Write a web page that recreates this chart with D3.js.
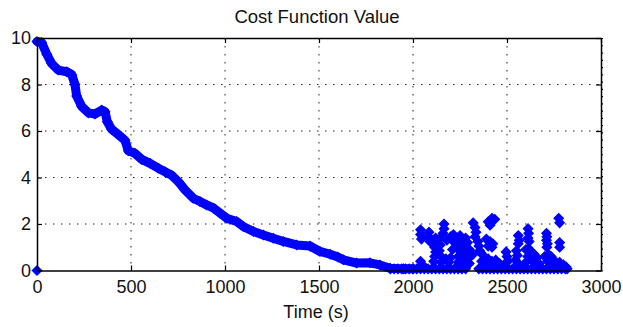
<!DOCTYPE html>
<html>
<head>
<meta charset="utf-8">
<script src="https://cdnjs.cloudflare.com/ajax/libs/d3/7.8.5/d3.min.js"></script>
<style>
  body { margin: 0; background: #fff; }
  text { font-family: "Liberation Sans", Arial, sans-serif; fill: #111; }
  .axis path.domain { stroke: #000; stroke-width: 1.5; }
  .axis .tick line { stroke: #000; stroke-width: 1.2; }
  .axis text { font-size: 18px; }
  .grid line { stroke: #222; stroke-width: 1; stroke-dasharray: 1.5 6.5; }
</style>
</head>
<body>
<svg id="chart" width="623" height="327"></svg>
<script>
// main descending curve (time in s, cost value)
var curveTime  = [0, 25, 52, 78, 113, 158, 185, 202, 211, 238, 273, 308, 344, 362, 374, 397, 432, 468, 486,
                  521, 557, 601, 645, 681, 716, 752, 787, 831, 867, 902, 940, 973, 1009, 1062, 1097, 1151,
                  1204, 1257, 1310, 1381, 1452, 1505, 1559, 1600, 1630, 1700, 1771, 1824, 1878, 1950, 2000];
var curveValue = [9.85, 9.8, 9.3, 8.9, 8.62, 8.55, 8.42, 8.0, 7.5, 7.05, 6.78, 6.73, 6.9, 6.83, 6.4, 6.08, 5.85, 5.6, 5.15,
                  5.04, 4.78, 4.61, 4.4, 4.25, 4.1, 3.82, 3.47, 3.11, 2.97, 2.82, 2.68, 2.47, 2.25, 2.11, 1.89, 1.68,
                  1.53, 1.39, 1.25, 1.1, 1.05, 0.82, 0.7, 0.58, 0.46, 0.32, 0.33, 0.24, 0.1, 0.07, 0.07];

// points sitting on the floor after the curve has converged
var floorTime = [1880, 1900, 1920, 1940, 1960, 1980, 2000, 2020, 2040, 2060, 2080, 2100, 2120, 2140, 2160, 2180,
                 2200, 2220, 2240, 2260, 2280,
                 2350, 2370, 2390, 2410, 2430, 2450, 2470, 2490, 2510, 2530, 2550, 2570, 2590, 2610, 2630, 2650,
                 2670, 2690, 2710, 2730, 2750, 2770, 2790, 2810, 2820];
var floorValue = 0.07;

// scattered values after t = 2000 [time, value]
var cloudPoints = [
  [0, 0],
  [2040, 1.75], [2040, 1.55], [2045, 1.35],
  [2085, 1.65], [2085, 1.45], [2090, 1.25],
  [2040, 0.4], [2050, 0.25],
  [2120, 1.4], [2120, 1.2], [2115, 1.0], [2120, 0.8], [2115, 0.6], [2110, 0.4],
  [2165, 2.0], [2165, 1.8], [2160, 1.6],
  [2140, 1.35], [2180, 1.3], [2145, 1.1], [2140, 0.85], [2150, 0.6], [2175, 0.5], [2200, 0.55],
  [2210, 0.9], [2190, 0.35], [2150, 0.35],
  [2200, 1.45], [2215, 1.55], [2230, 1.4], [2250, 1.5], [2265, 1.35], [2280, 1.4], [2220, 1.2],
  [2245, 1.15], [2270, 1.1], [2290, 1.2],
  [2240, 0.9], [2260, 0.8], [2280, 0.85], [2300, 0.9], [2240, 0.6], [2260, 0.5], [2280, 0.6],
  [2300, 0.55], [2320, 0.7], [2240, 0.35], [2270, 0.3], [2300, 0.3],
  [2320, 2.05], [2330, 1.85], [2335, 1.65],
  [2330, 1.45], [2345, 1.25], [2350, 1.05], [2355, 0.85],
  [2400, 2.1], [2420, 2.25], [2435, 2.2], [2410, 1.95],
  [2390, 1.35], [2410, 1.25], [2425, 1.15], [2420, 1.0], [2400, 1.05],
  [2360, 0.75], [2380, 0.6], [2400, 0.5], [2420, 0.4], [2440, 0.45], [2460, 0.3], [2365, 0.4], [2390, 0.3],
  [2495, 0.8], [2500, 0.6], [2505, 0.4], [2490, 0.3],
  [2550, 0.85], [2555, 0.65], [2545, 0.45], [2560, 0.3],
  [2560, 1.5], [2565, 1.3], [2560, 1.15],
  [2612, 1.8], [2615, 1.6], [2612, 1.4], [2618, 1.25],
  [2600, 0.9], [2615, 0.95], [2630, 0.8], [2645, 0.7], [2660, 0.55], [2610, 0.6], [2630, 0.45],
  [2650, 0.35], [2600, 0.35], [2670, 0.3],
  [2710, 1.6], [2712, 1.45], [2710, 1.3], [2715, 1.15], [2712, 1.0],
  [2700, 0.6], [2720, 0.7], [2735, 0.6], [2750, 0.45], [2715, 0.4], [2740, 0.3],
  [2775, 2.25], [2780, 2.05],
  [2780, 1.2], [2780, 1.0],
  [2780, 0.35], [2800, 0.25], [2815, 0.15]
];

var xTicks = [0, 500, 1000, 1500, 2000, 2500, 3000];
var yTicks = [0, 2, 4, 6, 8, 10];

var svg = d3.select("#chart");
var blue = "#0000ff";

var xScale = d3.scaleLinear().domain([0, 3000]).range([37, 601]);
var yScale = d3.scaleLinear().domain([0, 10]).range([270.5, 38]);

// dotted grid
var grid = svg.append("g").attr("class", "grid");
grid.selectAll("line.v").data(xTicks.slice(1, -1)).enter().append("line")
  .attr("x1", d => xScale(d)).attr("x2", d => xScale(d))
  .attr("y1", yScale(10)).attr("y2", yScale(0));
grid.selectAll("line.h").data(yTicks.slice(1, -1)).enter().append("line")
  .attr("x1", xScale(0)).attr("x2", xScale(3000))
  .attr("y1", d => yScale(d)).attr("y2", d => yScale(d));

// data
var diamond = d3.symbol().type(d3.symbolSquare).size(44);

var curve = d3.zip(curveTime, curveValue);
var line = d3.line().x(d => xScale(d[0])).y(d => yScale(d[1]));

svg.append("path")
  .attr("d", line(curve))
  .attr("fill", "none")
  .attr("stroke", blue)
  .attr("stroke-width", 9)
  .attr("stroke-linejoin", "round")
  .attr("stroke-linecap", "round");

var allPoints = curve
  .concat(floorTime.map(t => [t, floorValue]))
  .concat(cloudPoints);

svg.append("g").selectAll("path")
  .data(allPoints).enter().append("path")
  .attr("d", diamond)
  .attr("transform", d => "translate(" + xScale(d[0]) + "," + yScale(d[1]) + ") rotate(45)")
  .attr("fill", blue)
  .attr("stroke", blue)
  .attr("stroke-width", 1.2);

// axes
var fmt = d3.format("d");
var xAxis = d3.axisBottom(xScale).tickValues(xTicks).tickFormat(fmt)
  .tickSizeInner(-5).tickSizeOuter(0).tickPadding(10);
svg.append("g").attr("class", "axis")
  .attr("transform", "translate(0," + yScale(0) + ")")
  .call(xAxis);

var yAxis = d3.axisLeft(yScale).tickValues(yTicks).tickFormat(fmt)
  .tickSizeInner(-5).tickSizeOuter(0).tickPadding(6);
svg.append("g").attr("class", "axis")
  .attr("transform", "translate(" + xScale(0) + ",0)")
  .call(yAxis);

svg.append("g").attr("class", "axis")
  .attr("transform", "translate(0," + yScale(10) + ")")
  .call(d3.axisTop(xScale).tickValues(xTicks).tickSizeInner(-5).tickSizeOuter(0).tickFormat(""));

svg.append("g").attr("class", "axis")
  .attr("transform", "translate(" + xScale(3000) + ",0)")
  .call(d3.axisRight(yScale).tickValues(yTicks).tickSizeInner(-5).tickSizeOuter(0).tickFormat(""));

// small outer marks along the right edge
svg.append("g").attr("class", "axis")
  .attr("transform", "translate(" + xScale(3000) + ",0)")
  .call(d3.axisRight(yScale).tickValues(d3.range(0, 33).map(i => i * 10 / 32)).tickSize(2).tickFormat(""))
  .select(".domain").remove();

// titles
svg.append("text")
  .attr("x", 317).attr("y", 23)
  .attr("text-anchor", "middle")
  .style("font-size", "18.5px")
  .text("Cost Function Value");

svg.append("text")
  .attr("x", 316).attr("y", 318)
  .attr("text-anchor", "middle")
  .style("font-size", "18px")
  .text("Time (s)");
</script>
</body>
</html>
